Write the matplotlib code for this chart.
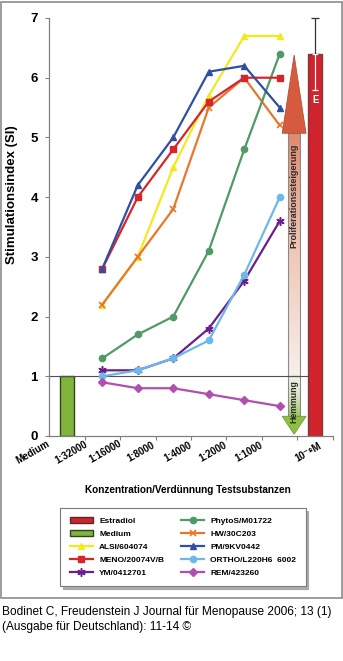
import numpy as np
import matplotlib
matplotlib.use('Agg')
import matplotlib.pyplot as plt
from matplotlib.patches import Rectangle, Polygon, Patch
from matplotlib.lines import Line2D
from matplotlib.colors import LinearSegmentedColormap

plt.rcParams['font.family'] = ['Liberation Sans', 'DejaVu Sans']

# categories on the x axis (as printed under the axis)
tick_labels = ['Medium', '1:32000', '1:16000', '1:8000', '1:4000', '1:2000', '1:1000', '10⁻⁸M']

# dilution series, 6 steps
alsi = [2.2, 3.0, 4.5, 5.7, 6.7, 6.7]
meno = [2.8, 4.0, 4.8, 5.6, 6.0, 6.0]
ym = [1.1, 1.1, 1.3, 1.8, 2.6, 3.6]
phytos = [1.3, 1.7, 2.0, 3.1, 4.8, 6.4]
hw = [2.2, 3.0, 3.8, 5.5, 6.0, 5.2]
pm = [2.8, 4.2, 5.0, 6.1, 6.2, 5.5]
ortho = [1.0, 1.1, 1.3, 1.6, 2.7, 4.0]
rem = [0.9, 0.8, 0.8, 0.7, 0.6, 0.5]

medium_si = 1.0
estradiol_si = 6.4
estradiol_sd = 0.6

fig = plt.figure(figsize=(3.43, 6.61), dpi=100)
ax = fig.add_axes([49/343, 1-436/661, (333-49)/343, (436-18)/661])

x = np.arange(1, 7)

# reference bars
ax.bar(0, medium_si, width=0.4, color='#7fb53d', edgecolor='#34441c', linewidth=1.0, zorder=2)
ax.bar(7, estradiol_si, width=0.4, color='#d0232b', edgecolor='#7b3a40', linewidth=1.0, zorder=2)
ax.errorbar(7, estradiol_si, yerr=[[0], [estradiol_sd]], color='#333333', capsize=3,
            elinewidth=0.9, capthick=0.9, clip_on=False, zorder=3)
ax.errorbar(7, estradiol_si, yerr=[[estradiol_sd], [0]], color='white', capsize=2,
            elinewidth=0.9, capthick=0.9, zorder=3)
ax.text(7, 5.63, 'E', color='white', fontsize=7, fontweight='bold', ha='center', va='center', zorder=4)

# arrows
up_cmap = LinearSegmentedColormap.from_list('up', ['#f6efec', '#efc9b8', '#df8a6c'])
ax.imshow(np.linspace(0, 1, 200).reshape(-1, 1), cmap=up_cmap, origin='lower', aspect='auto',
          extent=[6.24, 6.57, 1.0, 5.07], zorder=1)
ax.add_patch(Rectangle((6.24, 1.0), 0.33, 4.07, fill=False, edgecolor='#8a8a8a', lw=0.8, zorder=1.5))
ax.add_patch(Polygon([(6.07, 5.07), (6.74, 5.07), (6.405, 6.38)], closed=True,
                     facecolor='#d65a3e', edgecolor='#b0503c', lw=0.6, zorder=1.5))
down_cmap = LinearSegmentedColormap.from_list('down', ['#9cc65c', '#d6e5c2', '#f1f2ec'])
ax.imshow(np.linspace(0, 1, 100).reshape(-1, 1), cmap=down_cmap, origin='lower', aspect='auto',
          extent=[6.24, 6.57, 0.33, 1.0], zorder=1)
ax.add_patch(Rectangle((6.24, 0.33), 0.33, 0.67, fill=False, edgecolor='#8a8a8a', lw=0.8, zorder=1.5))
ax.add_patch(Polygon([(6.07, 0.33), (6.74, 0.33), (6.405, 0.03)], closed=True,
                     facecolor='#8dbf45', edgecolor='#6f9a3a', lw=0.6, zorder=1.5))
ax.text(6.405, 4.02, 'Proliferationssteigerung', rotation=90, fontsize=6.5, fontweight='bold',
        color='#2b2b2b', ha='center', va='center', zorder=4)
ax.text(6.405, 0.57, 'Hemmung', rotation=90, fontsize=6.3, fontweight='bold',
        color='#2b2b2b', ha='center', va='center', zorder=4)

# baseline SI = 1
ax.plot([-0.5, 6.77], [1, 1], color='#505050', lw=0.8, zorder=2.5)

# test substances
lw, ms = 1.6, 4.5
ax.plot(x, alsi, color='#f2e91f', marker='^', ms=ms, lw=lw, zorder=3)
ax.plot(x, hw, color='#e8772c', marker='x', ms=ms, mew=1.2, lw=lw, zorder=3)
ax.plot(x, phytos, color='#4f9a66', marker='o', ms=ms, lw=lw, zorder=3)
ax.plot(x, meno, color='#d5262c', marker='s', ms=ms, lw=lw, zorder=3)
ax.plot(x, pm, color='#2e4fa2', marker='^', ms=ms, lw=lw, zorder=3)
ax.plot(x, ym, color='#6a1f8c', marker=(6, 2, 0), ms=6, mew=1.1, lw=lw, zorder=3)
ax.plot(x, ortho, color='#6db8ea', marker='o', ms=ms, lw=lw, zorder=3)
ax.plot(x, rem, color='#b04fae', marker='D', ms=3.8, lw=lw, zorder=3)

ax.set_xlim(-0.5, 7.5)
ax.set_ylim(0, 7)
ax.set_yticks(range(0, 8))
ax.set_yticklabels([str(v) for v in range(0, 8)], fontsize=9.5, fontweight='bold')
ax.set_xticks(np.arange(0.5, 8, 1))
ax.set_xticklabels([])
ax.tick_params(axis='both', length=3, width=0.8, color='#808080', pad=5)
for s in ['top', 'right']:
    ax.spines[s].set_visible(False)
for s in ['left', 'bottom']:
    ax.spines[s].set_color('#808080')
    ax.spines[s].set_linewidth(0.9)

label_pos = [-0.95, 0.12, 1.08, 2.1, 3.13, 4.13, 5.14, 6.8]
for lp, lab in zip(label_pos, tick_labels):
    ax.annotate(lab, xy=(lp, 0), xytext=(0, -11.5), textcoords='offset points',
                ha='center', va='center', rotation=30, fontsize=7, fontweight='bold',
                annotation_clip=False)

ax.set_ylabel('Stimulationsindex (SI)', fontsize=9.5, fontweight='bold')
ax.yaxis.set_label_coords(-0.11, 0.578)
fig.text(188/343, 1-490/661, 'Konzentration/Verdünnung Testsubstanzen', fontsize=7.2,
         fontweight='bold', ha='center', va='center')

# legend
handles = [
    Patch(facecolor='#d0232b', edgecolor='#5a2a2a', label='Estradiol'),
    Patch(facecolor='#7fb53d', edgecolor='#34441c', label='Medium'),
    Line2D([], [], color='#f2e91f', marker='^', ms=ms, lw=lw, label='ALSI/604074'),
    Line2D([], [], color='#d5262c', marker='s', ms=ms, lw=lw, label='MENO/20074V/B'),
    Line2D([], [], color='#6a1f8c', marker=(6, 2, 0), ms=6, mew=1.1, lw=lw, label='YM/0412701'),
    Line2D([], [], color='#4f9a66', marker='o', ms=ms, lw=lw, label='PhytoS/M01722'),
    Line2D([], [], color='#e8772c', marker='x', ms=ms, mew=1.2, lw=lw, label='HW/30C203'),
    Line2D([], [], color='#2e4fa2', marker='^', ms=ms, lw=lw, label='PM/9KV0442'),
    Line2D([], [], color='#6db8ea', marker='o', ms=ms, lw=lw, label='ORTHO/L220H6  6002'),
    Line2D([], [], color='#b04fae', marker='D', ms=3.8, lw=lw, label='REM/423260'),
]
leg = fig.legend(handles=handles, ncol=2, loc='center', bbox_to_anchor=(183/343, 1-547/661),
                 prop={'size': 6, 'weight': 'bold'}, frameon=True, fancybox=False,
                 shadow={'color': '#9a9a9a', 'alpha': 0.8},
                 handlelength=2.8, handletextpad=0.75, columnspacing=2.0, labelspacing=0.62,
                 borderpad=1.1)
leg.get_frame().set_edgecolor('#7a7a7a')
leg.get_frame().set_linewidth(0.8)

# frame around the chart and citation
fig.add_artist(Rectangle((0.002, 1-598/661), 0.994, 598/661 - 0.003, transform=fig.transFigure,
                         fill=False, edgecolor='#8c8c8c', lw=1.2))
fig.text(0.006, 1-612/661, 'Bodinet C, Freudenstein J Journal für Menopause 2006; 13 (1)',
         fontsize=8.6, ha='left', va='center')
fig.text(0.006, 1-627/661, '(Ausgabe für Deutschland): 11-14 ©', fontsize=8.6, ha='left', va='center')

fig.savefig('out.png', dpi=100)
